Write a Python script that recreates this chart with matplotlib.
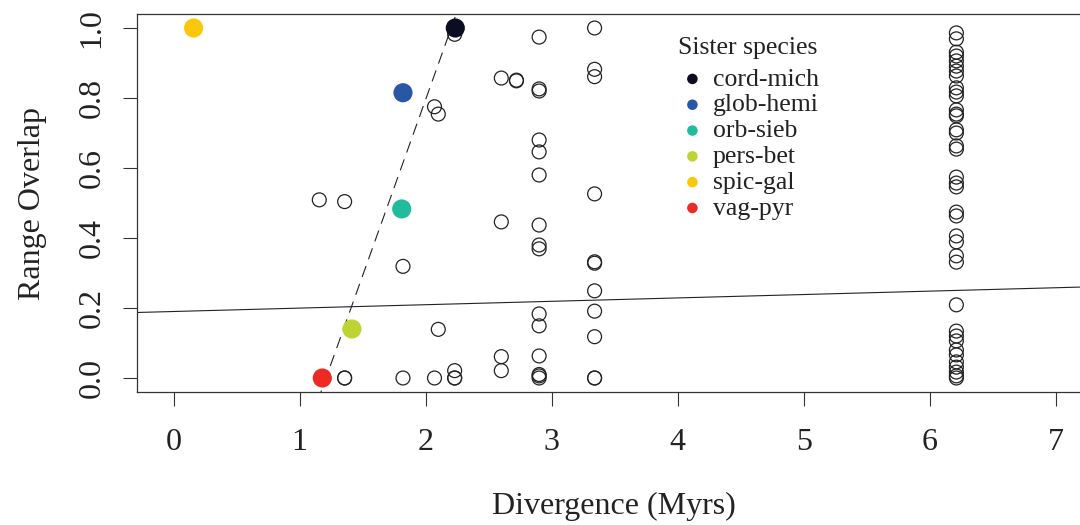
import matplotlib
matplotlib.use("Agg")
import matplotlib.pyplot as plt
import numpy as np

plt.rcParams['font.family'] = ['Liberation Serif', 'DejaVu Serif']

# Open circles: all sister-species pairs
div_open = [1.156, 1.357, 1.357, 1.357, 1.82, 1.82, 2.07, 2.07, 2.10, 2.10,
            2.23, 2.23, 2.23, 2.23, 2.60, 2.60, 2.60, 2.60, 2.72, 2.72,
            2.90, 2.90, 2.90, 2.90, 2.90, 2.90, 2.90, 2.90, 2.90, 2.90, 2.90, 2.90, 2.90, 2.90, 2.90,
            3.34, 3.34, 3.34, 3.34, 3.34, 3.34, 3.34, 3.34, 3.34, 3.34, 3.34] + [6.21] * 38
ovl_open = [0.509, 0.504, 0.0, 0.0, 0.319, 0.0, 0.775, 0.0, 0.754, 0.139,
            0.982, 0.021, 0.0, 0.0, 0.857, 0.446, 0.061, 0.021, 0.851, 0.849,
            0.974, 0.826, 0.820, 0.680, 0.646, 0.580, 0.437, 0.380, 0.369, 0.183, 0.149, 0.063, 0.010, 0.006, 0.0,
            1.0, 0.882, 0.861, 0.526, 0.332, 0.328, 0.249, 0.191, 0.118, 0.0, 0.0,
            0.986, 0.969, 0.931, 0.920, 0.906, 0.891, 0.877, 0.863, 0.829, 0.817,
            0.806, 0.766, 0.754, 0.749, 0.709, 0.700, 0.663, 0.654, 0.574, 0.557,
            0.546, 0.474, 0.463, 0.406, 0.389, 0.349, 0.331, 0.209, 0.134, 0.120,
            0.106, 0.080, 0.066, 0.046, 0.031, 0.017, 0.006, 0.0]

# Highlighted sister species
sister_names = ["cord-mich", "glob-hemi", "orb-sieb", "pers-bet", "spic-gal", "vag-pyr"]
sister_div = [2.235, 1.82, 1.81, 1.415, 0.159, 1.18]
sister_ovl = [1.0, 0.815, 0.483, 0.140, 1.0, 0.0]
sister_colors = ["#0c0d20", "#2757a5", "#21bc9b", "#bed433", "#f9c70c", "#ee2a24"]

# Fitted lines (intercept, slope)
all_fit = (0.19, 0.0097)
sister_fit = (-1.2172, 1.0066)

xticks = [0, 1, 2, 3, 4, 5, 6, 7]
yticks = [0.0, 0.2, 0.4, 0.6, 0.8, 1.0]

fig = plt.figure(figsize=(10.8, 5.25), dpi=100)
ax = fig.add_axes([137/1080, 1 - 392/525, (1090 - 137)/1080, (392 - 14)/525])
xlim = (-0.29, 7.27)
ylim = (-0.04, 1.04)

ax.scatter(div_open, ovl_open, s=100, facecolors='none', edgecolors='#222222',
           linewidths=0.9, zorder=3)
for n, x, y, c in zip(sister_names, sister_div, sister_ovl, sister_colors):
    ax.scatter([x], [y], s=190, color=c, edgecolors='none', zorder=4, label=n)

xx = np.array(xlim)
ax.plot(xx, all_fit[0] + all_fit[1] * xx, color='#222222', lw=0.8, zorder=2)
ax.plot(xx, sister_fit[0] + sister_fit[1] * xx, color='#222222', lw=0.8,
        dashes=(10.5, 6.5), zorder=2)

ax.set_xlim(*xlim)
ax.set_ylim(*ylim)
ax.set_xticks(xticks)
ax.set_yticks(yticks)
ax.set_xticklabels([str(t) for t in xticks])
ax.set_yticklabels([f"{t:.1f}" for t in yticks], rotation=90, va='center')
ax.tick_params(axis='both', labelsize=23, length=10, width=0.8, color='#333333',
               labelcolor='#222222')
ax.tick_params(axis='x', pad=16)
ax.tick_params(axis='y', pad=12)
for sp in ax.spines.values():
    sp.set_linewidth(0.9)
    sp.set_color('#333333')

ax.set_xlabel("Divergence (Myrs)", fontsize=23, color='#222222', labelpad=25)
ax.set_ylabel("Range Overlap", fontsize=23, color='#222222', labelpad=22)

ax.text((678 - 137) / 953, 1 - (48 - 14) / 378, "Sister species", transform=ax.transAxes,
        fontsize=18.5, color='#222222', ha='left', va='center')
leg = ax.legend(loc='upper left', bbox_to_anchor=(0.572, 0.858),
                frameon=False, fontsize=18.5, handletextpad=0.4,
                handlelength=0.8, labelspacing=0.11, borderpad=0.0, borderaxespad=0.0,
                markerscale=0.55)
for t in leg.get_texts():
    t.set_color('#222222')

fig.savefig("out.png", dpi=100)
